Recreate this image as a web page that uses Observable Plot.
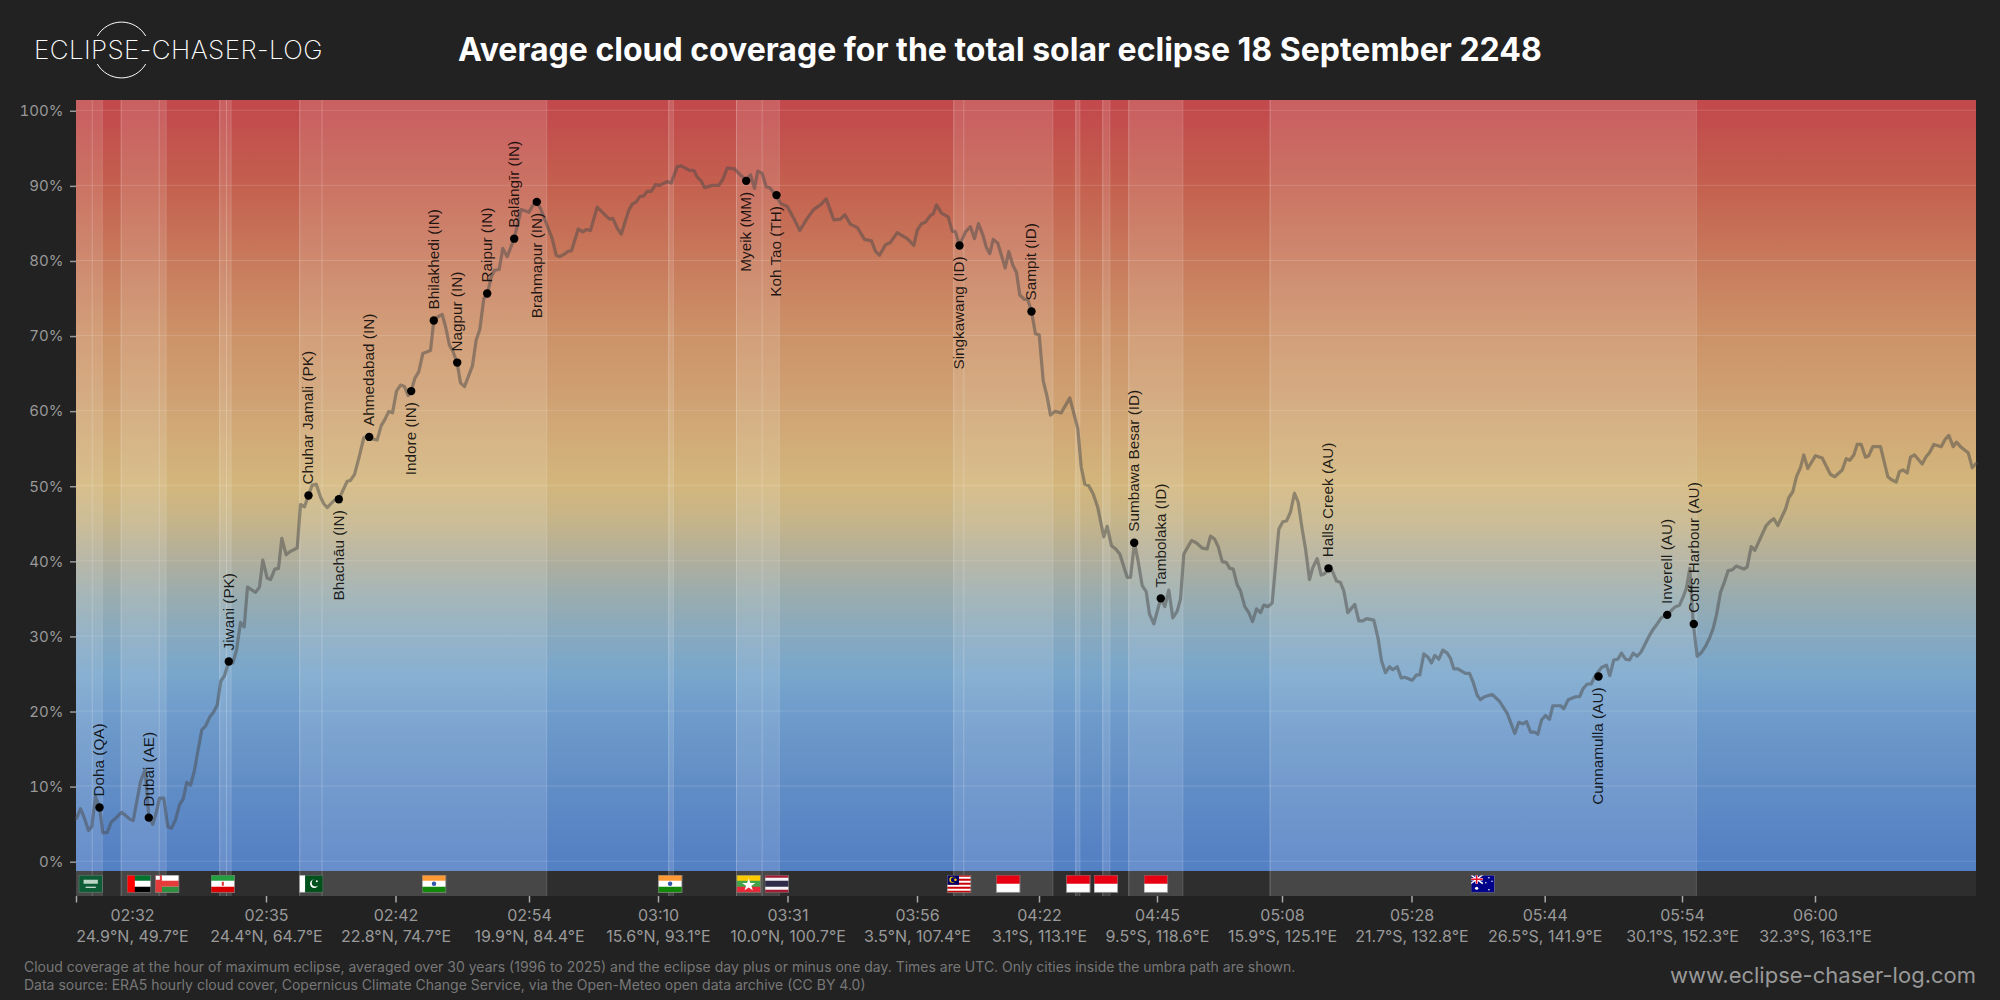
<!DOCTYPE html>
<html>
<head>
<meta charset="utf-8">
<script src="https://cdn.jsdelivr.net/npm/d3@7"></script>
<script src="https://cdn.jsdelivr.net/npm/@observablehq/plot@0.6"></script>
<style>
html,body{margin:0;padding:0;background:#222;width:2000px;height:1000px;overflow:hidden;font-family:Inter,sans-serif}
#chart{position:absolute;left:0;top:90px}
.abs{position:absolute;white-space:nowrap}
#title{left:458px;top:26px;width:1082px;text-align:center;font-size:32px;font-weight:700;line-height:48px;color:#fff}
#logoText{left:34px;top:32px;font-size:26px;font-weight:150;line-height:36px;color:#fff;letter-spacing:.4px}
#logo{left:90px;top:18px}
#note{left:24px;top:958px;font-size:14px;line-height:18.3px;color:#777}
#url{right:24px;top:961px;font-size:22px;line-height:28px;color:#999}
</style>
</head>
<body>
<div id="logo" class="abs"><svg width="64" height="64" viewBox="0 0 64 64" fill="none" stroke="#fff" stroke-width="1"><path d="M7.3 18A28 28 0 0 1 55.7 18"/><path d="M7.3 46A28 28 0 0 0 55.7 46"/></svg></div>
<div id="logoText" class="abs">ECLIPSE-CHASER-LOG</div>
<div id="title" class="abs">Average cloud coverage for the total solar eclipse 18 September 2248</div>
<div id="chart"></div>
<div id="note" class="abs">Cloud coverage at the hour of maximum eclipse, averaged over 30 years (1996 to 2025) and the eclipse day plus or minus one day. Times are UTC. Only cities inside the umbra path are shown.<br>Data source: ERA5 hourly cloud cover, Copernicus Climate Change Service, via the Open-Meteo open data archive (CC BY 4.0)</div>
<div id="url" class="abs">www.eclipse-chaser-log.com</div>
<script>
// Cloud cover (%) against position along the eclipse track: [track, percent]
const cloudCover = [
[0,5.7],[4,7],[8,5.7],[12,4.1],[15.3,4.6],[19,8.6],[23,7.2],[26.3,3.8],[30.7,3.8],[34.7,5.2],
[39,5.7],[45,6.5],[49,6.1],[53.3,5.6],[56.7,5.4],[64,10.6],[68.7,12.2],[72.3,5.9],[76.3,4.9],[80,6.6],
[83,8.4],[87.3,8.4],[91.3,4.6],[95,4.4],[99,5.5],[103,7.5],[106.7,8.3],[110.3,10.5],[114,10.1],[118,12.1],
[121.3,14.6],[125.3,17.5],[129,18],[133.3,19.2],[137.3,19.9],[140.7,20.8],[144.3,24],[148,24.7],[152.3,26.6],[156.3,26.4],
[160,28.1],[164,31.8],[167.7,31.2],[171,36.5],[179,35.8],[183,36.5],[186.3,40.1],[190.7,37.7],[194,37.5],[198.3,38.9],
[202,39],[205.3,43],[209.7,40.8],[213,41.2],[220.7,41.7],[224,47.5],[228,47.2],[232,48.7],[235.7,50.1],[239.7,50.2],
[244,48.5],[247.3,47.6],[250.7,47.1],[257.3,48],[262.3,48.2],[270.7,50.6],[274,50.7],[278,51.5],[283,54],[287.3,56.4],
[292.3,56.6],[296.7,56.2],[300.7,56.1],[304.7,58],[308.3,58.8],[312.3,59.9],[316,59.7],[320,62.6],[324,63.4],[328,63.2],
[331.7,62],[334.7,62.6],[338.3,64.3],[342.3,65.2],[346.3,67.6],[354,68],[357.3,72],[361.3,72.5],[365.7,72.8],[369,71.2],
[373,68.7],[376.7,67.8],[380.7,66.3],[384,63.7],[388,63.2],[392.3,64.7],[396,66],[399.7,69.4],[403.3,70.8],[407.3,74.9],
[411,75.6],[414.7,77.8],[418,78.7],[422.7,78.8],[426.3,81.6],[430.7,80.5],[437.3,82.8],[441,84.7],[444.7,86.8],[449,86.6],
[452.3,86.4],[456.7,87.4],[460.3,87.8],[464,86.9],[467.3,85.8],[471.7,84.3],[475.7,82.9],[479.7,80.7],[483.3,80.5],[487.3,80.8],
[491.3,81.2],[495,81.3],[501.7,84.2],[506.3,83.8],[509.7,84.1],[514,84],[520.7,87.1],[529,86],[533,85.5],[536.3,85.6],
[540.7,84.3],[544.7,83.5],[552.3,86.7],[555.7,87.5],[559.7,87.8],[563.3,88.5],[567.3,88.6],[570.7,89.2],[574.7,89.2],[579,90.1],
[583,90],[590.7,90.5],[594.7,90.3],[600.7,92.5],[604.7,92.6],[613,92],[617.3,92],[620.7,91.1],[624.7,90.6],[628,89.7],
[635.7,90],[642.3,90],[646.3,90.8],[650.7,92.3],[658,92.2],[662.3,91.6],[669.7,90.7],[674,91.4],[678,89.6],[681.3,91.9],
[685.7,91.6],[689.7,89.8],[693,89.7],[700,88.6],[704,87.6],[710.7,87.2],[717.3,85.6],[723.3,84],[730.7,85.6],[737.3,86.8],
[744,87.4],[749.7,88.2],[757.3,85.4],[764,85.5],[768.3,86.1],[774,84.8],[780.7,84.4],[788,82.8],[795,82.6],[799,81.2],
[803,80.7],[809,82.1],[814,82.4],[820.7,83.7],[830.7,82.9],[837.3,82],[840.7,84],[845,84.9],[849,85.1],[854,86],
[856.7,86.2],[860,87.4],[865,86.3],[871.7,85.8],[875.7,83.9],[879,83.8],[883,82],[889,83.8],[894,84.5],[898,82.9],
[902,84.9],[906.3,83.4],[909.7,81.8],[913.3,80.9],[916.7,82.8],[921.3,82.3],[928.7,79],[932.3,81.2],[936.3,79.4],[940,78.4],
[943.3,75.4],[948,74.8],[951.3,74.8],[955,73.2],[959,70.2],[962.7,70.1],[966.7,64],[970.7,61.8],[974,59.4],[978.3,59.9],
[984.7,59.7],[993.3,61.7],[1001.3,57.6],[1004.7,52.5],[1008.3,50.2],[1012.3,50],[1016.7,48.9],[1021.3,47.1],[1024,45.3],[1027.3,43.2],
[1030.7,44.6],[1035,42],[1039,41.6],[1043.3,40.9],[1050.7,37.8],[1054,37.8],[1058,42.4],[1061.3,40.2],[1065.7,36.7],[1069.7,35.9],
[1073,32.9],[1077.3,31.6],[1084.3,35],[1088.3,33.9],[1092.3,36.1],[1096.3,32.4],[1100.7,33.3],[1104,34.9],[1107.3,40.9],[1115,42.7],
[1119.7,42.4],[1125.7,41.7],[1130.7,41.6],[1134,43.3],[1138,42.9],[1141.7,41.9],[1145.7,39.9],[1149.7,39.8],[1153.3,39],[1156.7,38.9],
[1160.7,36.8],[1164,36],[1168.3,33.9],[1172.3,33.1],[1176,31.9],[1180,33.6],[1184,33.1],[1187.3,34.1],[1191.7,33.9],[1195.7,34.4],
[1202.3,44.2],[1206.3,45.2],[1210,45.3],[1214,46.5],[1218,49],[1221.7,47.8],[1225.7,44.2],[1229,41.6],[1233,37.5],[1236.3,39.1],
[1240.7,40.3],[1244.7,38.1],[1248.3,38.3],[1252,39],[1255.7,38.7],[1260,37.3],[1264,37.1],[1267.3,36],[1271.3,33.1],[1278.3,34.2],
[1282.3,32],[1286.3,32],[1290,32.3],[1297.3,32.1],[1301.7,29.6],[1305,26.7],[1309,25.1],[1313,25.9],[1316.3,25.5],[1320.7,25.9],
[1324.7,24.4],[1328.3,24.5],[1335.7,24.1],[1340,24.8],[1343.3,24.8],[1347.3,27.6],[1351.3,27.2],[1355,26.4],[1358.3,27.4],[1362.3,26.9],
[1366.3,28.1],[1370.7,27.7],[1374,27],[1377.3,25.6],[1381.3,25.6],[1389,25],[1393,25],[1396.7,23.8],[1400.7,22.1],[1404,21.5],
[1408,21.9],[1415.7,22.2],[1423,21.3],[1430.7,19.7],[1438.3,17],[1442.3,18.5],[1446.3,18.3],[1450,18.6],[1454,17.2],[1458,17.2],
[1461.3,16.9],[1465,18.8],[1469,19.4],[1473,18.9],[1476.3,20.7],[1484,20.7],[1487.3,20.3],[1491.7,21.5],[1499,21.9],[1503,21.9],
[1506.7,23],[1510.7,23.6],[1514.7,23.6],[1518.3,24.6],[1525,25.8],[1530,26.1],[1533.3,24.7],[1537.3,26.8],[1541.3,26.9],[1545,27.7],
[1549,26.9],[1553,26.8],[1556.7,27.7],[1560.7,27.3],[1564.7,27.9],[1572.3,29.9],[1576.7,30.9],[1580.7,31.6],[1584.7,32.4],[1590.7,32.8],
[1595.7,33.5],[1599,33.9],[1603,34.1],[1606.7,35.2],[1610,36.4],[1613.3,39],[1616.7,31.7],[1620.7,27.3],[1625,27.8],[1629,28.6],
[1633,29.7],[1636.7,31],[1640,32.8],[1644,35.8],[1648,37.2],[1651.7,38.7],[1655.7,38.8],[1659.7,39.3],[1667.3,38.9],[1670.7,39.2],
[1674.7,41.9],[1678.3,41.4],[1689.7,44.7],[1694,45.3],[1697.3,45.6],[1701.3,44.7],[1709,46.9],[1712.3,48.4],[1716.3,49.2],[1720,51.2],
[1724,52.4],[1727.3,54.1],[1731.3,52.3],[1739,54],[1745.7,53.7],[1754,51.5],[1758.3,51.2],[1765.7,52.1],[1769.7,53.6],[1773.3,53.4],
[1777.3,54.1],[1780.7,55.5],[1784.7,55.5],[1789,53.8],[1792.3,54],[1796.3,55.2],[1804,55.2],[1811.3,51.2],[1815,50.8],[1819.7,50.5],
[1823,51.9],[1826.7,52.1],[1830.7,51.7],[1834,53.8],[1838,54.1],[1845.7,52.9],[1849.7,53.9],[1853,54.4],[1857.3,55.5],[1864.7,55.2],
[1868.3,56.1],[1872.3,56.7],[1876.7,55.2],[1880,55.8],[1884,55.2],[1891.7,54.4],[1895.7,52.4],[1900,53]
];

const cityNames = ["Doha (QA)","Dubai (AE)","Jiwani (PK)","Chuhar Jamali (PK)","Bhachāu (IN)","Ahmedabad (IN)","Indore (IN)","Bhilakhedi (IN)","Nagpur (IN)","Raipur (IN)","Balāngīr (IN)","Brahmapur (IN)","Myeik (MM)","Koh Tao (TH)","Singkawang (ID)","Sampit (ID)","Sumbawa Besar (ID)","Tambolaka (ID)","Halls Creek (AU)","Cunnamulla (AU)","Inverell (AU)","Coffs Harbour (AU)"];
const cityTrack = [23,72.3,152.3,232,262.3,292.7,334.7,357.3,380.7,410.7,437.7,460.3,669.7,700,883,955,1057.7,1084.3,1252,1522,1590.7,1617.3];
const cityCloud = [7.15,5.8,26.6,48.7,48.2,56.5,62.6,72,66.4,75.6,82.9,87.8,90.6,88.7,82,73.2,42.4,35,39,24.6,32.8,31.6];
const cityBelow = [0,0,0,0,1,0,1,0,0,0,0,1,1,1,1,0,0,0,0,1,0,0];

// Country stretches of the track over land
const landBands = [[0,15.7],[15.7,25.7],[44.7,82.7],[82.7,89.5],[143.3,150],[150,154.5],[223.3,245.5],[245.5,470.2],[592.3,596.8],[660,685.6],[685.6,702.7],[877.3,887.3],[887.3,976.3],[999.3,1003.3],[1026.3,1033.3],[1052.3,1106.3],[1193.6,1619.8]];

const tickTrack = [0,190,319.5,453,582,711.5,841,963,1081,1206,1335.5,1468.7,1606,1739];
const tickLabelTrack = [56,190,319.5,453,582,711.5,841,963,1081,1206,1335.5,1468.7,1606,1739];
const tickTimes = ["02:32","02:35","02:42","02:54","03:10","03:31","03:56","04:22","04:45","05:08","05:28","05:44","05:54","06:00"];
const tickPlaces = ["24.9°N, 49.7°E","24.4°N, 64.7°E","22.8°N, 74.7°E","19.9°N, 84.4°E","15.6°N, 93.1°E","10.0°N, 100.7°E","3.5°N, 107.4°E","3.1°S, 113.1°E","9.5°S, 118.6°E","15.9°S, 125.1°E","21.7°S, 132.8°E","26.5°S, 141.9°E","30.1°S, 152.3°E","32.3°S, 163.1°E"];

const flagTrack = [14.2,62.4,90.5,146.3,234.7,357.5,593.6,672.2,700.3,882.5,931.6,1001.7,1029.4,1079.4,1406.3];
const flagCode = ["sa","ae","om","ir","pk","in","in","mm","th","my","id","id","id","id","au"];

const gradientValues = [101.3,100,90,80,70,60,50,45,40,35,30,25,20,10,0,-1.37];
const gradientColors = ["#c24a4c","#c24a4c","#c4604f","#c87a5c","#cc9268","#d0a474","#d3b67c","#c5b48a","#afae9c","#98acb0","#87a9c0","#79a6cb","#6f9ccb","#618dc6","#5480c4","#5480c4"];

const flagArt = {
 sa:`<rect width="24" height="18" fill="#0d5c36"/><rect x="5" y="5" width="14" height="4" fill="#bcd6c6"/><rect x="7" y="12" width="10" height="1" fill="#fff"/>`,
 ae:`<rect width="24" height="18" fill="#fff"/><rect width="24" height="6" fill="#00732f"/><rect y="12" width="24" height="6" fill="#000"/><rect width="8" height="18" fill="#f00"/>`,
 om:`<rect width="24" height="18" fill="#fff"/><rect y="6" width="24" height="6" fill="#e63b3b"/><rect y="12" width="24" height="6" fill="#2f8f3f"/><rect width="7" height="18" fill="#e63b3b"/><rect x="1" y="1" width="4" height="4" fill="#fff"/>`,
 ir:`<rect width="24" height="18" fill="#fff"/><rect width="24" height="6" fill="#239f40"/><rect y="12" width="24" height="6" fill="#da0000"/><rect x="11" y="7" width="2" height="4" fill="#d33"/>`,
 pk:`<rect width="24" height="18" fill="#01511c"/><rect width="6" height="18" fill="#fff"/><circle cx="15" cy="9" r="4.2" fill="#fff"/><circle cx="16.3" cy="8" r="3.8" fill="#01511c"/><circle cx="17.5" cy="6.5" r="1" fill="#fff"/>`,
 in:`<rect width="24" height="18" fill="#fff"/><rect width="24" height="6" fill="#ff9933"/><rect y="12" width="24" height="6" fill="#138808"/><circle cx="12" cy="9" r="2.2" fill="#3355aa"/>`,
 mm:`<rect width="24" height="18" fill="#44a44a"/><rect width="24" height="6" fill="#fecb00"/><rect y="12" width="24" height="6" fill="#ea2839"/><path d="M12 3.5L13.6 8.2H18.5L14.6 11L16 15.5L12 12.8L8 15.5L9.4 11L5.5 8.2H10.4Z" fill="#fff"/>`,
 th:`<rect width="24" height="18" fill="#a51931"/><rect y="3" width="24" height="12" fill="#f4f5f8"/><rect y="6" width="24" height="6" fill="#2d2a4a"/>`,
 my:`<rect width="24" height="18" fill="#fff"/><rect width="24" height="2" y="0" fill="#cc0001"/><rect width="24" height="2" y="4" fill="#cc0001"/><rect width="24" height="2" y="8" fill="#cc0001"/><rect width="24" height="2" y="12" fill="#cc0001"/><rect width="24" height="2" y="16" fill="#cc0001"/><rect width="12" height="10" fill="#010066"/><circle cx="5.5" cy="5" r="3" fill="#fc0"/><circle cx="6.5" cy="5" r="2.5" fill="#010066"/><circle cx="8.5" cy="5" r="1.2" fill="#fc0"/>`,
 id:`<rect width="24" height="18" fill="#fff"/><rect width="24" height="9" fill="#e70011"/>`,
 au:`<rect width="24" height="18" fill="#00008b"/><rect width="12" height="9" fill="#00008b"/><path d="M0 0L12 9M12 0L0 9" stroke="#fff" stroke-width="1.6"/><path d="M6 0V9M0 4.5H12" stroke="#fff" stroke-width="2.6"/><path d="M6 0V9M0 4.5H12" stroke="#e8112d" stroke-width="1.4"/><circle cx="6" cy="13.5" r="1.6" fill="#fff"/><circle cx="18" cy="3" r=".8" fill="#fff"/><circle cx="18" cy="15" r=".8" fill="#fff"/><circle cx="15" cy="8" r=".7" fill="#fff"/><circle cx="21" cy="6.5" r=".7" fill="#fff"/>`
};
const flagUri = c => "data:image/svg+xml," + encodeURIComponent(`<svg xmlns="http://www.w3.org/2000/svg" viewBox="0 0 24 18" width="24" height="18">${flagArt[c]}<rect x=".4" y=".4" width="23.2" height="17.2" fill="none" stroke="#777" stroke-width=".8"/></svg>`);

const bottomOf = -4.7, plotFloor = -1.37, topOf = 101.3, trackEnd = 1900;
const cloudRows = cloudCover.map(([track, cloud]) => ({track, cloud}));
const cityRows = cityNames.map((name, i) => ({name, track: cityTrack[i], cloud: cityCloud[i], below: cityBelow[i]}));
const tickRows = tickTimes.map((time, i) => ({track: tickLabelTrack[i], label: time + "\n" + tickPlaces[i]}));
const flagRows = flagCode.map((code, i) => ({track: flagTrack[i], src: flagUri(code), y: -3}));
const landRows = landBands.map(([x1, x2]) => ({x1, x2}));
const edgeRows = [...new Set(landBands.flat())].filter(d => d > 0);
const panelRows = [{x1: 0, x2: trackEnd, y1: plotFloor, y2: topOf}];
const stripRows = [{x1: 0, x2: trackEnd, y1: bottomOf, y2: plotFloor}];
const overlayRows = landRows.map(d => ({...d, y1: bottomOf, y2: topOf}));

const gradientDefs = () => {
  const defs = d3.create("svg:defs");
  const g = defs.append("linearGradient").attr("id", "cloudGradient").attr("x1", 0).attr("x2", 0).attr("y1", 0).attr("y2", 1);
  gradientValues.forEach((v, i) => g.append("stop")
    .attr("offset", (topOf - v) / (topOf - plotFloor))
    .attr("stop-color", gradientColors[i]));
  return defs.node();
};

const chart = Plot.plot({
  width: 2000, height: 860,
  marginLeft: 76, marginRight: 24, marginTop: 10, marginBottom: 54,
  style: {background: "transparent", fontFamily: "Inter, sans-serif", overflow: "visible"},
  x: {domain: [0, trackEnd]},
  y: {domain: [bottomOf, topOf]},
  marks: [
    gradientDefs,
    Plot.rect(panelRows, {x1: "x1", x2: "x2", y1: "y1", y2: "y2", fill: "url(#cloudGradient)"}),
    Plot.rect(stripRows, {x1: "x1", x2: "x2", y1: "y1", y2: "y2", fill: "#2e2e2e"}),
    Plot.rect(overlayRows, {x1: "x1", x2: "x2", y1: "y1", y2: "y2", fill: "#fff", fillOpacity: 0.12}),
    Plot.ruleX(edgeRows, {stroke: "#fff", strokeOpacity: 0.22, strokeWidth: 1}),
    Plot.ruleY(d3.range(0, 101, 10), {x1: 0, x2: trackEnd, stroke: "#fff", strokeOpacity: 0.14, strokeWidth: 1}),
    Plot.image(flagRows, {x: "track", y: "y", src: "src", width: 24.5, height: 18, preserveAspectRatio: "none"}),
    Plot.line(cloudRows, {x: "track", y: "cloud", stroke: "#4a4a4a", strokeOpacity: 0.5, strokeWidth: 3.2, strokeLinejoin: "round"}),
    Plot.dot(cityRows, {x: "track", y: "cloud", r: 4.2, fill: "#000"}),
    Plot.text(cityRows.filter(d => !d.below), {x: "track", y: "cloud", text: "name", rotate: -90, textAnchor: "start", lineAnchor: "middle", dy: -11, fontSize: 15.3, fontFamily: "Liberation Sans", fill: "#000", fillOpacity: 0.85}),
    Plot.text(cityRows.filter(d => d.below), {x: "track", y: "cloud", text: "name", rotate: -90, textAnchor: "end", lineAnchor: "middle", dy: 11, fontSize: 15.3, fontFamily: "Liberation Sans", fill: "#000", fillOpacity: 0.85}),
    Plot.axisY(d3.range(0, 101, 10), {anchor: "left", label: null, tickSize: 6, tickPadding: 7, tickFormat: d => d + "%", stroke: "#999", strokeWidth: 1.5, fill: "#999", fontSize: 15, textStroke: "none", dy: 1}),
    Plot.axisX(tickTrack, {anchor: "bottom", label: null, tickSize: 6.5, tickFormat: () => "", stroke: "#aaa", strokeWidth: 1.5}),
    Plot.text(tickRows, {x: "track", text: "label", frameAnchor: "bottom", lineAnchor: "top", dy: 9, lineHeight: 1.32, fontSize: 16, fill: "#999"})
  ]
});
document.getElementById("chart").append(chart);
</script>
</body>
</html>
